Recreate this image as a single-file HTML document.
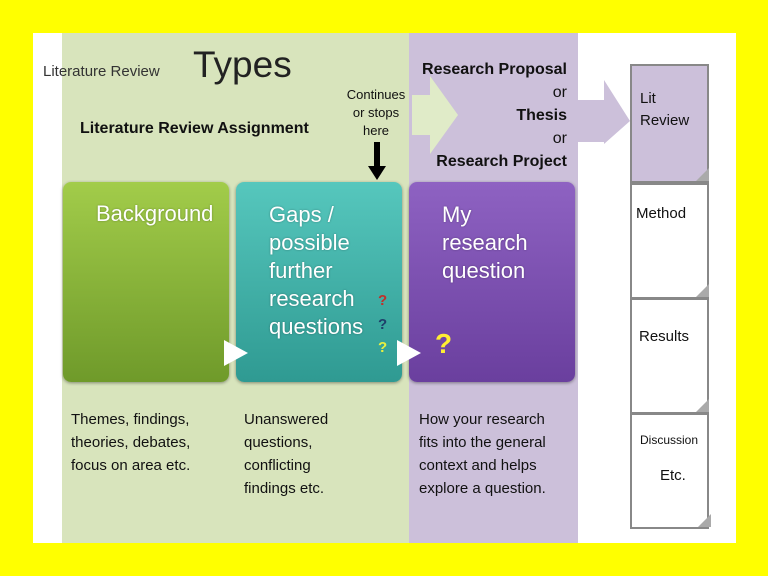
<!DOCTYPE html>
<html><head><style>
body{margin:0;width:768px;height:576px;background:#ffff00;position:relative;overflow:hidden;font-family:"Liberation Sans",sans-serif;}
div,svg{position:absolute;}
.t{white-space:nowrap;color:#111;}
.box{border-radius:8px;top:182px;height:200px;width:166px;box-shadow:0 1px 3px rgba(0,0,0,.4);}
.bt{color:#fff;font-size:22px;line-height:28px;text-shadow:0 0 2px rgba(0,0,0,.3);}
.doc{left:630px;width:79px;border:2px solid #888;box-sizing:border-box;background:#fff;}
</style></head><body>
<div style="left:33px;top:33px;width:703px;height:510px;background:#fff"></div>
<div style="left:62px;top:33px;width:347px;height:510px;background:#d8e4bc"></div>
<div style="left:409px;top:33px;width:169px;height:510px;background:#ccc0da"></div>
<svg style="left:0;top:0" width="768" height="576">
<polygon points="412,95 430,95 430,76 458,115 430,154 430,135 412,135" fill="#e0ebc8"/>
<polygon points="578,100 604,100 604,80 630,121 604,144 604,142 578,142" fill="#ccc0da"/>
<rect x="374" y="142" width="6" height="24" fill="#000"/>
<polygon points="368,166 386,166 377,180" fill="#000"/>
</svg>
<div class="t" style="left:43px;top:63px;font-size:15px;color:#333">Literature Review</div>
<div class="t" style="left:193px;top:44px;font-size:37px;color:#222">Types</div>
<div class="t" style="left:80px;top:120px;font-size:16px;font-weight:bold">Literature Review Assignment</div>
<div class="t" style="left:340px;top:86px;width:72px;text-align:center;font-size:13px;line-height:18px">Continues<br>or stops<br>here</div>
<div class="t" style="left:400px;top:58px;width:167px;text-align:right;font-size:16px;line-height:23px"><b>Research Proposal</b><br>or<br><b>Thesis</b><br>or<br><b>Research Project</b></div>
<div class="box" style="left:63px;background:linear-gradient(#a2cc4a,#6f9a2a)"><div class="bt" style="left:33px;top:18px">Background</div></div>
<div class="box" style="left:236px;background:linear-gradient(#56c7bd,#2f9a92)"><div class="bt" style="left:33px;top:19px">Gaps /<br>possible<br>further<br>research<br>questions</div>
<div style="left:142px;top:110px;font-size:15px;font-weight:bold;color:#c0302a">?</div>
<div style="left:142px;top:134px;font-size:15px;font-weight:bold;color:#1e3f6a">?</div>
<div style="left:142px;top:157px;font-size:15px;font-weight:bold;color:#e8f040">?</div></div>
<div class="box" style="left:409px;background:linear-gradient(#8e62c2,#6a3f9e)"><div class="bt" style="left:33px;top:19px">My<br>research<br>question</div>
<div style="left:26px;top:146px;font-size:28px;font-weight:bold;color:#ffee33">?</div></div>
<svg style="left:0;top:0" width="768" height="576">
<polygon points="224,340 248,353 224,366" fill="#fff"/>
<polygon points="397,340 421,353 397,366" fill="#fff"/>
</svg>
<div class="t" style="left:71px;top:408px;font-size:15px;line-height:23px">Themes, findings,<br>theories, debates,<br>focus on area etc.</div>
<div class="t" style="left:244px;top:408px;font-size:15px;line-height:23px">Unanswered<br>questions,<br>conflicting<br>findings etc.</div>
<div class="t" style="left:419px;top:408px;font-size:15px;line-height:23px">How your research<br>fits into the general<br>context and helps<br>explore a question.</div>
<div class="doc" style="top:64px;height:119px;background:#ccc0da"><div class="t" style="left:8px;top:22px;font-size:15px;line-height:22px">Lit<br>Review</div></div>
<div class="doc" style="top:183px;height:116px"><div class="t" style="left:4px;top:20px;font-size:15px">Method</div></div>
<div class="doc" style="top:298px;height:116px"><div class="t" style="left:7px;top:28px;font-size:15px">Results</div></div>
<div class="doc" style="top:413px;height:116px"><div class="t" style="left:8px;top:18px;font-size:12px">Discussion</div><div class="t" style="left:28px;top:52px;font-size:15px">Etc.</div></div>
<svg style="left:0;top:0" width="768" height="576">
<polygon points="696,181 709,168 709,181" fill="#aaa"/>
<polygon points="696,297 709,284 709,297" fill="#aaa"/>
<polygon points="696,412 709,399 709,412" fill="#aaa"/>
<polygon points="698,527 711,514 711,527" fill="#aaa"/>
</svg>
</body></html>
